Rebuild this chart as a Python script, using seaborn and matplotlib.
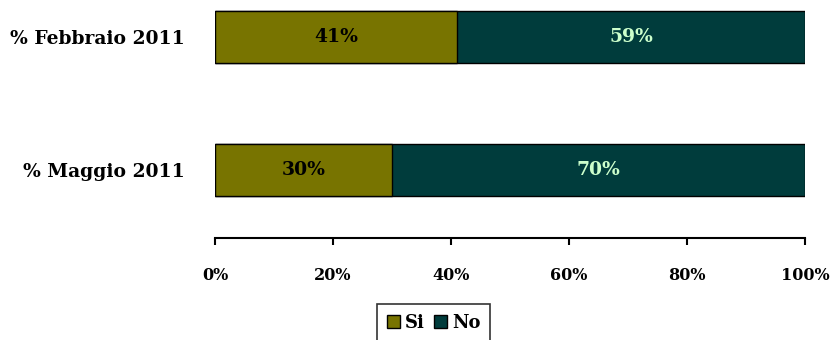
import matplotlib
matplotlib.use("Agg")
import matplotlib.pyplot as plt
from matplotlib.patches import Patch
from matplotlib.ticker import PercentFormatter
import pandas as pd
import seaborn as sns

categories = ["% Febbraio 2011", "% Maggio 2011"]
si_values = [41, 30]
no_values = [59, 70]
series_names = ["Si", "No"]
tick_values = [0, 20, 40, 60, 80, 100]

si_color = "#787400"
no_color = "#003C3C"
no_text_color = "#CCFFCC"

sns.set_theme(style="white")
plt.rcParams["font.family"] = ["DejaVu Serif"]
plt.rcParams["font.weight"] = "bold"
plt.rcParams["text.color"] = "black"
plt.rcParams["xtick.color"] = "black"
plt.rcParams["ytick.color"] = "black"

df = pd.DataFrame({
    "period": categories,
    "Si": si_values,
    "No": no_values,
})
df["total"] = df["Si"] + df["No"]

fig = plt.figure(figsize=(8.3, 3.4), dpi=100)
ax = fig.add_axes([215 / 830, 1 - 238 / 340, 590 / 830, 238 / 340])

# stacked bars: full length in the "No" colour, the "Si" share drawn on top
sns.barplot(data=df, x="total", y="period", orient="h", color=no_color,
            edgecolor="black", linewidth=1.0, width=0.39, ax=ax, saturation=1)
sns.barplot(data=df, x="Si", y="period", orient="h", color=si_color,
            edgecolor="black", linewidth=1.0, width=0.39, ax=ax, saturation=1)

for i, (si, no) in enumerate(zip(df["Si"], df["No"])):
    ax.text(si / 2, i, f"{si}%", ha="center", va="center",
            fontsize=13.5, fontweight="bold", color="black")
    ax.text(si + no / 2, i, f"{no}%", ha="center", va="center",
            fontsize=13.5, fontweight="bold", color=no_text_color)

ax.set_xlim(0, 100)
ax.set_ylim(1.511, -0.278)
ax.set_xticks(tick_values)
ax.xaxis.set_major_formatter(PercentFormatter(decimals=0))
ax.tick_params(axis="x", direction="out", length=5, width=1.5, color="black",
               labelsize=11.5, pad=16, bottom=True, labelcolor="black")
ax.tick_params(axis="y", length=0, labelsize=13.5, pad=22, labelcolor="black")
for lab in ax.get_xticklabels() + ax.get_yticklabels():
    lab.set_fontweight("bold")
ax.set_xlabel("")
ax.set_ylabel("")
for side in ["top", "right", "left"]:
    ax.spines[side].set_visible(False)
ax.spines["bottom"].set_color("black")
ax.spines["bottom"].set_linewidth(1.5)

handles = [Patch(facecolor=si_color, edgecolor="black", label=series_names[0]),
           Patch(facecolor=no_color, edgecolor="black", label=series_names[1])]
leg = fig.legend(handles=handles, ncol=2, loc="upper left",
                 bbox_to_anchor=(377 / 830, 1 - 304 / 340),
                 frameon=True, fancybox=False, edgecolor="black",
                 fontsize=13, handlelength=0.7, handleheight=0.7,
                 handletextpad=0.3, columnspacing=0.5, borderpad=0.55,
                 borderaxespad=0)
leg.get_frame().set_linewidth(1.2)
for t in leg.get_texts():
    t.set_fontweight("bold")
    t.set_color("black")

fig.savefig("out.png", dpi=100)
